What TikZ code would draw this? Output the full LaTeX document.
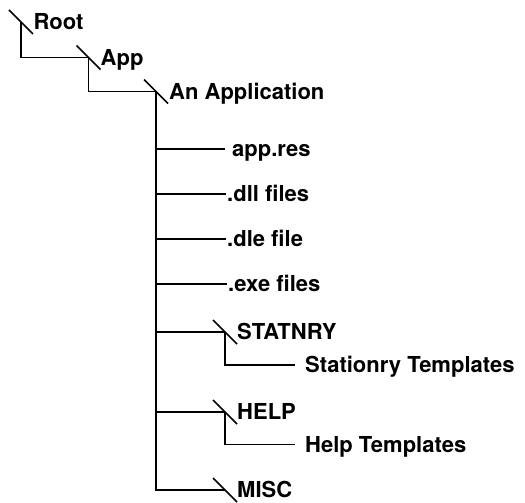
\documentclass[tikz,border=0pt]{standalone}
\usepackage{fontspec}
\setmainfont{TeX Gyre Heros}
\usetikzlibrary{calc}

\begin{document}
\begin{tikzpicture}[x=1pt, y=-1pt,
  line/.style={line width=1.6pt},
  dir/.style={anchor=west, inner sep=0pt, text height=15.6pt, text depth=0pt,
    font=\fontsize{22}{24}\selectfont\bfseries},
]
  \useasboundingbox (0,0) rectangle (525,503);
  % --- folder junctions, each marked by a slash ---
  \coordinate (jroot) at (21,22);
  \coordinate (japp) at (88.5,57.5);
  \coordinate (japplic) at (156,91.5);
  \coordinate (jstat) at (225,332);
  \coordinate (jhelp) at (225,412);
  \coordinate (jmisc) at (225,490);
  \foreach \j in {jroot,japp,japplic,jstat,jhelp,jmisc}
    \draw[line] ($(\j)+(-12,-12)$) -- ($(\j)+(12,12)$);
  % --- folder names ---
  \node[dir] (root) at ($(jroot)+(12.5,0)$) {Root};
  \node[dir] (app) at ($(japp)+(12,0)$) {App};
  \node[dir] (applic) at ($(japplic)+(13,0)$) {An Application};
  \node[dir] (statnry) at ($(jstat)+(12,0)$) {STATNRY};
  \node[dir] (help) at ($(jhelp)+(12,0)$) {HELP};
  \node[dir] (misc) at ($(jmisc)+(12,0)$) {MISC};
  % --- files ---
  \node[dir] (appres) at (232,149) {app.res};
  \node[dir] (dll) at (227,194) {.dll files};
  \node[dir] (dle) at (227,239) {.dle file};
  \node[dir] (exe) at (228,284) {.exe files};
  \node[dir] (stattmpl) at (305,365) {Stationry Templates};
  \node[dir] (helptmpl) at (305,444.5) {Help Templates};
  % --- tree lines ---
  \draw[line] (jroot) |- (japp);
  \draw[line] (japp) |- (japplic);
  \draw[line] (japplic) |- (jmisc);
  \draw[line] (japplic |- jstat) -- (jstat);
  \draw[line] (japplic |- jhelp) -- (jhelp);
  \draw[line] (japplic |- appres.west) -- ($(appres.west)+(-7,0)$);
  \foreach \f in {dll,dle,exe}
    \draw[line] (japplic |- \f.west) -- ($(\f.west)+(-1,0)$);
  \draw[line] (jstat) |- ($(stattmpl.west)+(-10,0)$);
  \draw[line] (jhelp) |- ($(helptmpl.west)+(-10,0)$);
\end{tikzpicture}
\end{document}
